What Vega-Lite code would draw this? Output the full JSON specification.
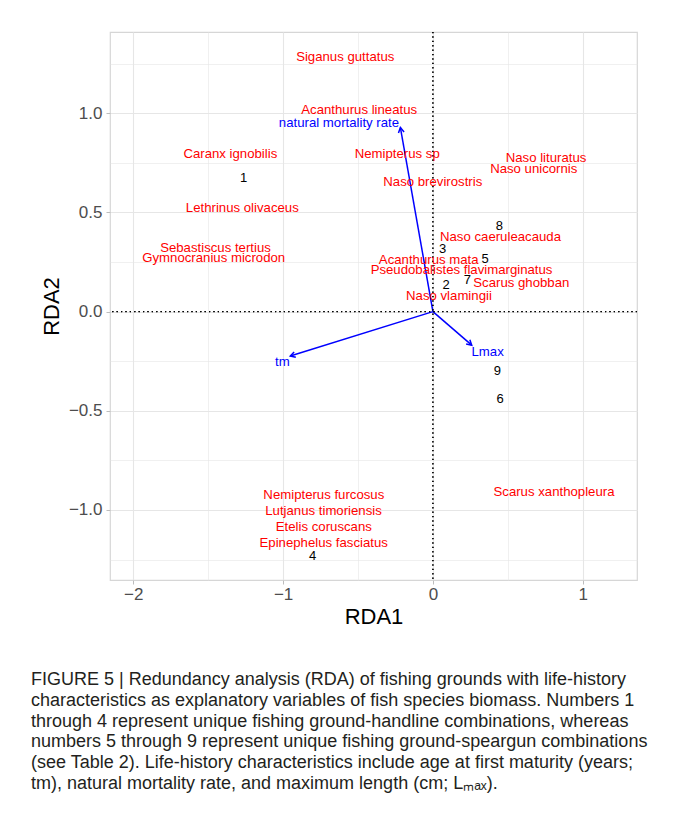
{
  "$schema": "https://vega.github.io/schema/vega-lite/v6.json",
  "width": 527,
  "height": 548,
  "autosize": {"type": "none"},
  "padding": {"left": 110, "top": 32, "right": 36, "bottom": 249},
  "background": "white",
  "title": {
    "text": [
      "FIGURE 5 | Redundancy analysis (RDA) of fishing grounds with life-history",
      "characteristics as explanatory variables of fish species biomass. Numbers 1",
      "through 4 represent unique fishing ground-handline combinations, whereas",
      "numbers 5 through 9 represent unique fishing ground-speargun combinations",
      "(see Table 2). Life-history characteristics include age at first maturity (years;",
      "tm), natural mortality rate, and maximum length (cm; Lₘₐₓ)."
    ],
    "orient": "bottom",
    "anchor": "start",
    "frame": "group",
    "dx": -79,
    "offset": 44,
    "fontSize": 18,
    "fontWeight": "normal",
    "font": "Liberation Sans",
    "color": "#231F20",
    "lineHeight": 20.8,
    "baseline": "top"
  },
  "config": {
    "font": "Liberation Sans",
    "view": {"stroke": "#D6D6D6", "strokeWidth": 1.2},
    "axis": {
      "domain": false,
      "gridColor": "#E6E6E6",
      "labelColor": "#4D4D4D",
      "labelFontSize": 17,
      "labelFont": "Liberation Sans",
      "titleColor": "#000000",
      "titleFontSize": 22,
      "titleFontWeight": "normal",
      "titleFont": "Liberation Sans",
      "tickSize": 4,
      "tickWidth": 1
    }
  },
  "datasets": {
    "species": [
      {"name": "Siganus guttatus", "x": -0.585, "y": 1.284},
      {"name": "Acanthurus lineatus", "x": -0.492, "y": 1.015},
      {"name": "Caranx ignobilis", "x": -1.352, "y": 0.793},
      {"name": "Lethrinus olivaceus", "x": -1.272, "y": 0.525},
      {"name": "Sebastiscus tertius", "x": -1.451, "y": 0.321},
      {"name": "Gymnocranius microdon", "x": -1.463, "y": 0.273},
      {"name": "Nemipterus sp", "x": -0.238, "y": 0.793},
      {"name": "Naso brevirostris", "x": -0.001, "y": 0.654},
      {"name": "Naso lituratus", "x": 0.755, "y": 0.775},
      {"name": "Naso unicornis", "x": 0.673, "y": 0.718},
      {"name": "Naso caeruleacauda", "x": 0.451, "y": 0.374},
      {"name": "Acanthurus mata", "x": -0.028, "y": 0.259},
      {"name": "Pseudobalistes flavimarginatus", "x": 0.191, "y": 0.208},
      {"name": "Scarus ghobban", "x": 0.59, "y": 0.145},
      {"name": "Naso vlamingii", "x": 0.107, "y": 0.08},
      {"name": "Nemipterus furcosus", "x": -0.728, "y": -0.926},
      {"name": "Lutjanus timoriensis", "x": -0.73, "y": -1.005},
      {"name": "Etelis coruscans", "x": -0.728, "y": -1.085},
      {"name": "Epinephelus fasciatus", "x": -0.729, "y": -1.164},
      {"name": "Scarus xanthopleura", "x": 0.808, "y": -0.908}
    ],
    "sites": [
      {"site": "1", "x": -1.263, "y": 0.674},
      {"site": "2", "x": 0.088, "y": 0.132},
      {"site": "3", "x": 0.065, "y": 0.316},
      {"site": "4", "x": -0.803, "y": -1.231},
      {"site": "5", "x": 0.348, "y": 0.266},
      {"site": "6", "x": 0.448, "y": -0.442},
      {"site": "7", "x": 0.23, "y": 0.159},
      {"site": "8", "x": 0.443, "y": 0.431},
      {"site": "9", "x": 0.43, "y": -0.298}
    ],
    "vectors": [
      {"variable": "natural mortality rate", "x": -0.217, "y": 0.928},
      {"variable": "tm", "x": -0.952, "y": -0.224},
      {"variable": "Lmax", "x": 0.259, "y": -0.169}
    ],
    "vectorLabels": [
      {"variable": "natural mortality rate", "x": -0.627, "y": 0.951},
      {"variable": "tm", "x": -1.005, "y": -0.254},
      {"variable": "Lmax", "x": 0.365, "y": -0.203}
    ]
  },
  "layer": [
    {
      "data": {"name": "vectors"},
      "mark": {"type": "rule", "color": "#0000FF", "strokeWidth": 1.5},
      "encoding": {
        "x": {
          "field": "x", "type": "quantitative",
          "scale": {"domain": [-2.155, 1.362], "nice": false, "zero": false},
          "axis": {
            "title": "RDA1",
            "titlePadding": 4,
            "labelPadding": 2,
            "values": [-2, -1.5, -1, -0.5, 0, 0.5, 1],
            "labelExpr": "abs(datum.value - round(datum.value)) < 0.001 ? format(datum.value, 'd') : ''",
            "tickColor": {"condition": {"test": "abs(datum.value - round(datum.value)) > 0.001", "value": "transparent"}, "value": "#BDBDBD"},
            "gridWidth": {"condition": {"test": "abs(datum.value - round(datum.value)) > 0.001", "value": 0.6}, "value": 1.1}
          }
        },
        "x2": {"datum": 0},
        "y": {
          "field": "y", "type": "quantitative",
          "scale": {"domain": [-1.353, 1.41], "nice": false, "zero": false},
          "axis": {
            "title": "RDA2",
            "titlePadding": 5,
            "labelPadding": 4,
            "values": [-1.25, -1, -0.75, -0.5, -0.25, 0, 0.25, 0.5, 0.75, 1, 1.25],
            "labelExpr": "abs(datum.value * 2 - round(datum.value * 2)) < 0.001 ? format(datum.value, '.1f') : ''",
            "tickColor": {"condition": {"test": "abs(datum.value * 2 - round(datum.value * 2)) > 0.001", "value": "transparent"}, "value": "#BDBDBD"},
            "gridWidth": {"condition": {"test": "abs(datum.value * 2 - round(datum.value * 2)) > 0.001", "value": 0.6}, "value": 1.1}
          }
        },
        "y2": {"datum": 0}
      }
    },
    {
      "data": {"name": "vectors"},
      "mark": {"type": "rule", "color": "#000000", "strokeWidth": 1, "strokeDash": [1.2, 3.2]},
      "encoding": {
        "x": {"datum": 0, "type": "quantitative"}
      }
    },
    {
      "data": {"name": "vectors"},
      "mark": {"type": "rule", "color": "#000000", "strokeWidth": 1, "strokeDash": [1.2, 3.2]},
      "encoding": {
        "y": {"datum": 0, "type": "quantitative"}
      }
    },
    {
      "data": {"name": "vectors"},
      "transform": [
        {"calculate": "atan2(datum.x * 150, datum.y * 198.5) * 180 / PI", "as": "angle"}
      ],
      "mark": {
        "type": "point",
        "shape": "M-0.5,0.866L0,0L0.5,0.866",
        "filled": false,
        "stroke": "#0000FF",
        "strokeWidth": 1.5,
        "size": 130,
        "opacity": 1
      },
      "encoding": {
        "x": {"field": "x", "type": "quantitative"},
        "y": {"field": "y", "type": "quantitative"},
        "angle": {"field": "angle", "type": "quantitative", "scale": null}
      }
    },
    {
      "data": {"name": "species"},
      "mark": {"type": "text", "color": "#FF0000", "fontSize": 13.2, "align": "center", "baseline": "middle", "font": "Liberation Sans"},
      "encoding": {
        "x": {"field": "x", "type": "quantitative"},
        "y": {"field": "y", "type": "quantitative"},
        "text": {"field": "name"}
      }
    },
    {
      "data": {"name": "sites"},
      "mark": {"type": "text", "color": "#000000", "fontSize": 13, "align": "center", "baseline": "middle", "font": "Liberation Sans"},
      "encoding": {
        "x": {"field": "x", "type": "quantitative"},
        "y": {"field": "y", "type": "quantitative"},
        "text": {"field": "site"}
      }
    },
    {
      "data": {"name": "vectorLabels"},
      "mark": {"type": "text", "color": "#0000FF", "fontSize": 13.2, "align": "center", "baseline": "middle", "font": "Liberation Sans"},
      "encoding": {
        "x": {"field": "x", "type": "quantitative"},
        "y": {"field": "y", "type": "quantitative"},
        "text": {"field": "variable"}
      }
    }
  ]
}
